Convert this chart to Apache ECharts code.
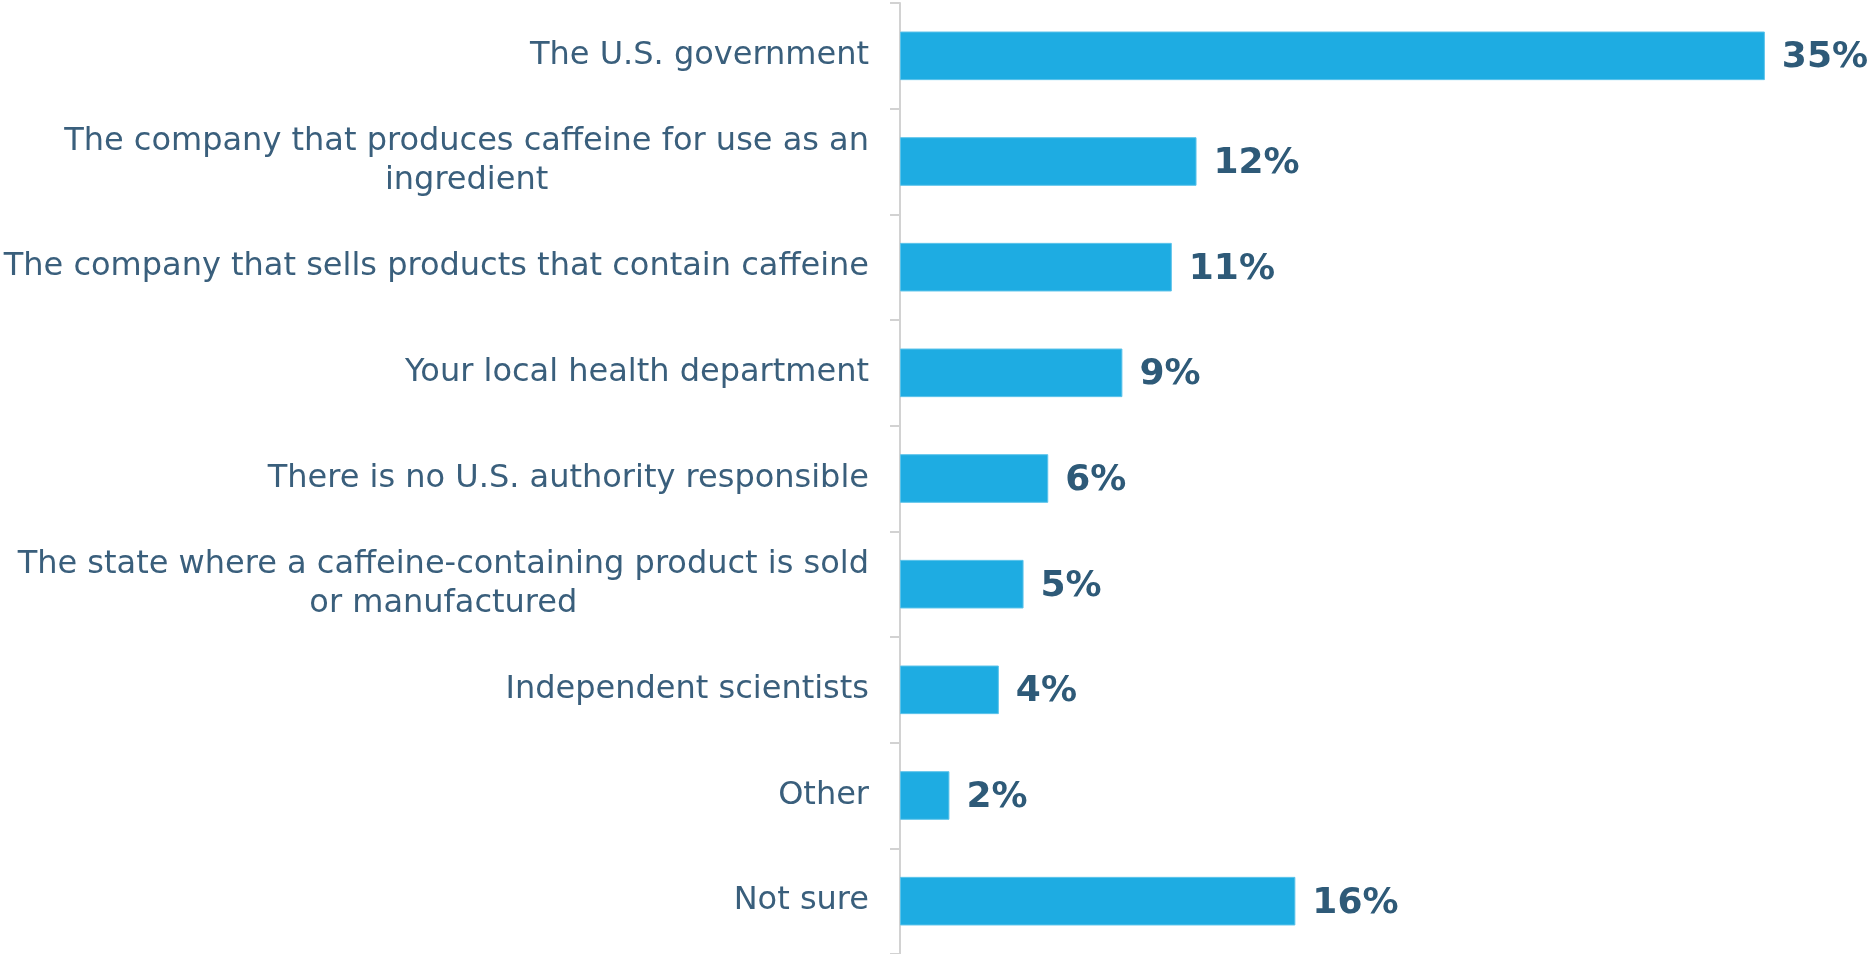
<!DOCTYPE html>
<html>
<head>
<meta charset="utf-8">
<title>Who is responsible for caffeine safety</title>
<script src="https://cdn.jsdelivr.net/npm/echarts@6/dist/echarts.min.js"></script>
<style>
  html, body { margin: 0; padding: 0; background: #ffffff; }
  #chart { width: 1871px; height: 954px; }
</style>
</head>
<body>
<div id="chart"></div>
<script>
// Answer options, top to bottom
const categories = [
  'The U.S. government',
  'The company that produces caffeine for use as an\ningredient',
  'The company that sells products that contain caffeine',
  'Your local health department',
  'There is no U.S. authority responsible',
  'The state where a caffeine-containing product is sold\nor manufactured',
  'Independent scientists',
  'Other',
  'Not sure'
];

// Share of respondents (%)
const shares = [35, 12, 11, 9, 6, 5, 4, 2, 16];

const LABEL_FONT = 'DejaVu Sans';

const chart = echarts.init(document.getElementById('chart'), null, { renderer: 'canvas' });

chart.setOption({
  animation: false,
  backgroundColor: '#ffffff',
  grid: { left: 900, right: 32, top: 3, bottom: 0, containLabel: false },
  xAxis: {
    type: 'value',
    min: 0,
    max: 38,
    show: false
  },
  yAxis: {
    type: 'category',
    inverse: true,
    data: categories,
    axisLine: { show: true, lineStyle: { color: '#d2d2d2', width: 2 } },
    axisTick: { show: true, length: 10, lineStyle: { color: '#d2d2d2', width: 2 } },
    axisLabel: {
      margin: 31,
      align: 'right',
      fontFamily: LABEL_FONT,
      fontSize: 32,
      color: '#3a5f7c',
      lineHeight: 39,
      // each line centred within the right-aligned block
      formatter: function (v) {
        return v.split('\n').map(function (line) { return '{c|' + line + '}'; }).join('\n');
      },
      rich: {
        c: {
          align: 'center',
          fontFamily: LABEL_FONT,
          fontSize: 32,
          lineHeight: 39,
          color: '#3a5f7c'
        }
      }
    }
  },
  series: [{
    type: 'bar',
    data: shares,
    barCategoryGap: '54%',
    itemStyle: { color: '#1eace2', borderColor: '#5cc3ea', borderWidth: 1 },
    label: {
      show: true,
      position: 'right',
      distance: 17,
      offset: [0, 2],
      formatter: '{c}%',
      fontFamily: LABEL_FONT,
      fontWeight: 'bold',
      fontSize: 36,
      color: '#2e5a78'
    }
  }]
});
</script>
</body>
</html>
